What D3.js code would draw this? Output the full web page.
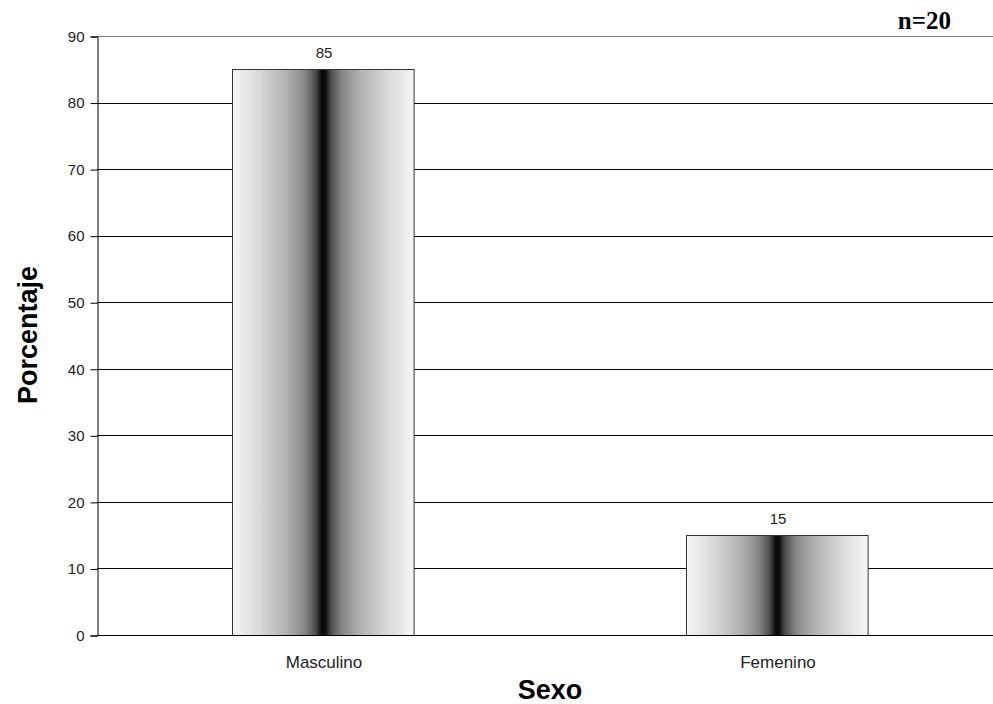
<!DOCTYPE html>
<html><head><meta charset="utf-8">
<script src="https://cdn.jsdelivr.net/npm/d3@7"></script>
<style>body{margin:0;background:#fff}svg{display:block}</style>
</head><body>
<script>
const categories = ["Masculino", "Femenino"];
const values = [85, 15];
const yTicks = [0,10,20,30,40,50,60,70,80,90];

const W = 993, H = 704;
const svg = d3.select("body").append("svg").attr("width", W).attr("height", H);

const x0 = 97, x1 = 1005, yTop = 36, yBot = 635;
const x = d3.scaleBand().domain(categories).range([x0, x1]).paddingInner(0.6).paddingOuter(0.3);
const y = d3.scaleLinear().domain([0, 90]).range([yBot, yTop]);

const defs = svg.append("defs");
const g = defs.append("linearGradient").attr("id","barGrad").attr("x1","0%").attr("x2","100%").attr("y1","0%").attr("y2","0%");
[[0,"#f6f6f6"],[0.15,"#d8d8d8"],[0.3,"#b0b0b0"],[0.4,"#858585"],[0.46,"#4a4a4a"],[0.49,"#0a0a0a"],[0.51,"#0a0a0a"],[0.54,"#4a4a4a"],[0.6,"#858585"],[0.7,"#b0b0b0"],[0.85,"#d8d8d8"],[1,"#f6f6f6"]]
  .forEach(([o,c]) => g.append("stop").attr("offset", o).attr("stop-color", c));

// gridlines
svg.append("g").selectAll("line").data(yTicks.filter(t => t > 0)).join("line")
  .attr("x1", x0).attr("x2", W).attr("y1", d => Math.round(y(d)) + 0.5).attr("y2", d => Math.round(y(d)) + 0.5)
  .attr("stroke", d => d === 90 ? "#808080" : "#000").attr("stroke-width", 1);

// bars
svg.append("g").selectAll("rect").data(categories).join("rect")
  .attr("x", d => Math.round(x(d)) - 0.5)
  .attr("y", (d,i) => Math.round(y(values[i])) + 0.5)
  .attr("width", x.bandwidth())
  .attr("height", (d,i) => Math.round(yBot) - Math.round(y(values[i])))
  .attr("fill", "url(#barGrad)").attr("stroke", "#333").attr("stroke-width", 1);

const sans = "Liberation Sans, Arial, sans-serif";

// value labels
svg.append("g").selectAll("text").data(categories).join("text")
  .attr("x", d => x(d) + x.bandwidth()/2)
  .attr("y", (d,i) => y(values[i]) - 11)
  .attr("text-anchor", "middle").attr("font-family", sans).attr("font-size", 15)
  .attr("fill", "#222").text((d,i) => values[i]);

// y axis
const yAxis = d3.axisLeft(y).tickValues(yTicks).tickSize(7).tickPadding(6);
const ya = svg.append("g").attr("transform", `translate(${x0 + 0.5},0.5)`).call(yAxis);
ya.select(".domain").attr("stroke", "#000");
ya.selectAll(".tick line").attr("stroke", "#000");
ya.selectAll("text").attr("font-family", sans).attr("font-size", 15).attr("fill", "#222");

// x axis line
svg.append("line").attr("x1", x0).attr("x2", W).attr("y1", yBot + 0.5).attr("y2", yBot + 0.5).attr("stroke", "#000");

// category labels
const xAxis = d3.axisBottom(x).tickSize(0).tickPadding(21);
const xa = svg.append("g").attr("transform", `translate(0,${yBot})`).call(xAxis);
xa.select(".domain").remove();
xa.selectAll("text").attr("font-family", sans).attr("font-size", 17).attr("fill", "#222");

// axis titles
svg.append("text").attr("x", 550).attr("y", 699).attr("text-anchor", "middle")
  .attr("font-family", sans).attr("font-weight", "bold").attr("font-size", 27).text("Sexo");
svg.append("text").attr("transform", "translate(37,335) rotate(-90)").attr("text-anchor", "middle")
  .attr("font-family", sans).attr("font-weight", "bold").attr("font-size", 27).text("Porcentaje");

// n label
svg.append("text").attr("x", 951).attr("y", 29).attr("text-anchor", "end")
  .attr("font-family", "Liberation Serif, Times New Roman, serif").attr("font-weight", "bold").attr("font-size", 25).text("n=20");
</script>
</body></html>
